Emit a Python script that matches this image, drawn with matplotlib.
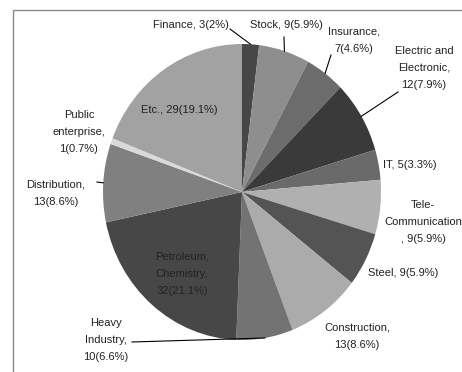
import numpy as np
import matplotlib
matplotlib.use("Agg")
import matplotlib.pyplot as plt
from matplotlib.lines import Line2D
from matplotlib.patches import Rectangle

W, H = 462, 372

# data (clockwise from 12 o'clock)
sectors = ["Finance", "Stock", "Insurance", "Electric and Electronic", "IT",
           "Tele-Communication", "Steel", "Construction", "Heavy Industry",
           "Petroleum, Chemistry", "Distribution", "Public enterprise", "Etc."]
counts = [3, 9, 7, 12, 5, 9, 9, 13, 10, 32, 13, 1, 29]
shares = [2, 5.9, 4.6, 7.9, 3.3, 5.9, 5.9, 8.6, 6.6, 21.1, 8.6, 0.7, 19.1]
label_text = [
    "Finance, 3(2%)",
    "Stock, 9(5.9%)",
    "Insurance,\n7(4.6%)",
    "Electric and\nElectronic,\n12(7.9%)",
    "IT, 5(3.3%)",
    "Tele-\nCommunication\n, 9(5.9%)",
    "Steel, 9(5.9%)",
    "Construction,\n13(8.6%)",
    "Heavy\nIndustry,\n10(6.6%)",
    "Petroleum,\nChemistry,\n32(21.1%)",
    "Distribution,\n13(8.6%)",
    "Public\nenterprise,\n1(0.7%)",
    "Etc., 29(19.1%)",
]
colors = ["#474747", "#8e8e8e", "#6c6c6c", "#3a3a3a", "#6a6a6a", "#b0b0b0",
          "#545454", "#ababab", "#737373", "#474747", "#808080", "#d9d9d9",
          "#a2a2a2"]

# label centres in pixel coords, and leader-line start points
label_pos = [(191, 25), (286, 25), (354, 40), (424, 68), (410, 165),
             (423, 222), (403, 273), (357, 336), (106, 340), (182, 274),
             (56, 193), (79, 132), (179, 110)]
leader_from = {0: (230, 29), 1: (284, 37), 2: (331, 55), 3: (398, 92),
               8: (132, 342), 10: (97, 182)}


def fig_xy(px, py):
    return px / W, 1 - py / H


fig = plt.figure(figsize=(W / 100, H / 100), dpi=100)
fig.patches.append(Rectangle(fig_xy(13, 372 + 5), 1.2, (372 + 5 - 10) / H,
                             transform=fig.transFigure, fill=False,
                             edgecolor="#8a8a8a", linewidth=1.0))

cx, cy, rx, ry = 242, 192, 139, 148
ax = fig.add_axes([(cx - rx) / W, (H - cy - ry) / H, 2 * rx / W, 2 * ry / H])
wedges, _ = ax.pie(counts, colors=colors, startangle=90, counterclock=False,
                   wedgeprops=dict(linewidth=0))
ax.set_aspect("auto")
ax.set_xlim(-1, 1)
ax.set_ylim(-1, 1)
ax.axis("off")

for i, txt in enumerate(label_text):
    fx, fy = fig_xy(*label_pos[i])
    fig.text(fx, fy, txt, ha="center", va="center", fontsize=8,
             family="Liberation Sans", color="#222222", linespacing=1.9)
    if i in leader_from:
        w = wedges[i]
        ang = np.deg2rad((w.theta1 + w.theta2) / 2)
        ex, ey = ax.transData.transform((np.cos(ang), np.sin(ang)))
        ex, ey = fig.transFigure.inverted().transform((ex, ey))
        sx, sy = fig_xy(*leader_from[i])
        fig.lines.append(Line2D([sx, ex], [sy, ey], transform=fig.transFigure,
                                color="black", linewidth=0.8))

fig.savefig("out.png", dpi=100)
